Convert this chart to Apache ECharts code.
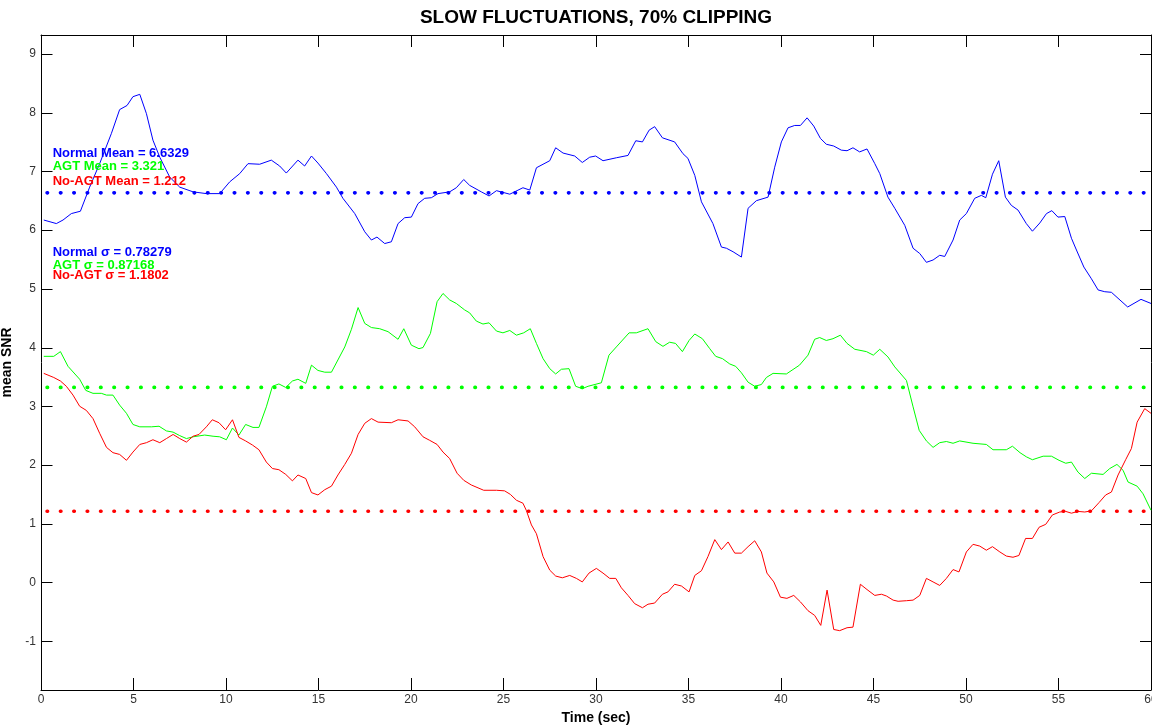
<!DOCTYPE html>
<html>
<head>
<meta charset="utf-8">
<script src="https://cdn.jsdelivr.net/npm/echarts@6/dist/echarts.min.js"></script>
<style>
  html, body { margin: 0; padding: 0; background: #fff; }
  #chart { width: 1152px; height: 725px; }
</style>
</head>
<body>
<div id="chart"></div>
<script>
// Mean SNR over time for three receiver configurations
const normalT = [0.15,0.83,1.19,1.64,2.13,2.63,3.17,3.80,4.25,4.65,4.97,5.34,5.70,6.05,6.42,6.96,7.50,8.22,8.94,9.66,10.20,10.74,11.19,11.82,12.45,12.90,13.26,13.89,14.25,14.62,14.97,15.43,15.97,16.32,16.96,17.50,17.86,18.16,18.58,18.94,19.30,19.66,20.02,20.38,20.74,21.10,21.46,22.09,22.45,22.85,23.17,23.80,24.22,24.62,25.34,26.05,26.42,26.78,27.50,27.82,28.22,28.85,29.26,29.66,29.98,30.38,31.10,31.73,32.15,32.51,32.87,33.17,33.59,34.25,34.70,34.97,35.34,35.70,36.32,36.78,37.05,37.41,37.86,38.22,38.67,39.30,39.66,40.02,40.38,40.74,41.05,41.41,41.77,42.13,42.45,42.85,43.26,43.57,43.89,44.25,44.65,45.07,45.34,45.78,46.15,46.69,47.14,47.50,47.86,48.22,48.58,48.85,49.30,49.66,50.02,50.47,50.83,51.07,51.43,51.77,52.13,52.45,52.81,53.26,53.59,53.99,54.35,54.64,54.97,55.34,55.70,55.97,56.37,56.78,57.14,57.50,57.86,58.74,59.46,60.00];
const normalV = [6.17,6.11,6.17,6.28,6.32,6.73,7.13,7.64,8.05,8.12,8.27,8.31,7.98,7.53,7.24,6.90,6.73,6.65,6.62,6.62,6.82,6.96,7.13,7.12,7.19,7.09,6.97,7.19,7.09,7.26,7.14,6.96,6.73,6.54,6.28,5.97,5.83,5.88,5.77,5.80,6.11,6.21,6.22,6.45,6.54,6.55,6.62,6.65,6.72,6.86,6.76,6.65,6.58,6.67,6.61,6.72,6.68,7.06,7.18,7.40,7.31,7.26,7.15,7.24,7.26,7.18,7.23,7.27,7.52,7.50,7.70,7.76,7.57,7.50,7.30,7.22,6.93,6.48,6.11,5.71,5.69,5.63,5.54,6.37,6.50,6.56,7.07,7.50,7.74,7.78,7.78,7.91,7.77,7.56,7.46,7.43,7.36,7.35,7.40,7.33,7.38,7.13,6.96,6.56,6.37,6.08,5.69,5.60,5.45,5.49,5.57,5.55,5.83,6.17,6.28,6.54,6.59,6.55,6.95,7.18,6.56,6.42,6.34,6.11,5.98,6.12,6.28,6.33,6.22,6.23,5.86,5.66,5.37,5.17,4.98,4.95,4.94,4.69,4.82,4.75];

const agtT = [0.15,0.69,1.05,1.46,2.09,2.42,2.81,3.26,3.54,3.89,4.25,4.62,4.97,5.34,5.97,6.38,6.78,7.14,7.50,7.86,8.22,8.85,9.30,9.66,10.02,10.35,10.70,11.06,11.46,11.78,12.18,12.51,12.86,13.23,13.59,13.89,14.31,14.62,14.97,15.34,15.70,16.42,16.78,17.14,17.50,17.86,18.31,18.76,19.30,19.61,20.02,20.43,20.65,21.05,21.41,21.73,22.09,22.45,22.90,23.17,23.53,23.89,24.22,24.62,24.97,25.34,25.70,26.09,26.45,26.78,27.14,27.50,27.82,28.13,28.54,28.90,29.26,29.57,30.29,30.70,31.10,31.79,32.18,32.81,33.23,33.62,33.98,34.30,34.67,35.03,35.34,35.75,36.15,36.47,36.84,37.23,37.55,37.86,38.22,38.58,38.94,39.21,39.57,40.29,41.00,41.46,41.82,42.09,42.45,42.81,43.21,43.57,43.99,44.62,44.99,45.34,45.78,46.15,46.78,47.14,47.47,47.86,48.22,48.58,48.94,49.30,49.66,50.38,51.10,51.46,52.18,52.51,52.92,53.26,53.59,54.17,54.62,55.03,55.39,55.70,56.05,56.42,56.78,57.41,57.77,58.16,58.49,58.76,59.25,59.57,60.00];
const agtV = [3.85,3.85,3.93,3.68,3.46,3.27,3.22,3.22,3.19,3.19,3.02,2.88,2.69,2.65,2.65,2.66,2.58,2.56,2.50,2.45,2.48,2.51,2.49,2.48,2.43,2.63,2.51,2.69,2.64,2.64,2.99,3.34,3.38,3.32,3.43,3.46,3.39,3.70,3.61,3.58,3.58,4.01,4.31,4.68,4.41,4.34,4.32,4.27,4.14,4.32,4.04,3.98,4.00,4.24,4.78,4.92,4.81,4.75,4.64,4.59,4.45,4.40,4.42,4.28,4.25,4.29,4.21,4.25,4.32,4.07,3.81,3.64,3.55,3.63,3.64,3.34,3.30,3.34,3.40,3.87,4.01,4.25,4.25,4.32,4.10,4.02,4.09,4.07,3.93,4.12,4.23,4.15,3.98,3.85,3.81,3.72,3.68,3.57,3.41,3.34,3.37,3.49,3.56,3.55,3.70,3.87,4.14,4.17,4.12,4.15,4.21,4.07,3.97,3.93,3.87,3.97,3.84,3.67,3.44,2.99,2.59,2.41,2.30,2.38,2.40,2.37,2.41,2.37,2.35,2.26,2.26,2.32,2.21,2.14,2.09,2.15,2.15,2.08,2.03,2.05,1.88,1.77,1.86,1.84,1.94,2.01,1.91,1.71,1.64,1.51,1.23];

const noAgtT = [0.15,0.69,1.05,1.37,1.73,2.09,2.45,2.81,3.17,3.54,3.89,4.25,4.62,4.97,5.34,5.70,6.05,6.42,6.78,7.14,7.50,7.86,8.22,8.54,8.94,9.26,9.62,9.98,10.35,10.70,11.06,11.43,11.78,12.18,12.51,12.86,13.23,13.59,13.89,14.31,14.62,14.97,15.34,15.70,16.05,16.42,16.78,17.14,17.50,17.86,18.22,18.94,19.30,19.84,20.20,20.65,21.01,21.41,21.73,22.09,22.49,22.85,23.26,23.93,24.62,25.06,25.37,25.70,26.05,26.23,26.51,26.78,27.14,27.50,27.82,28.18,28.58,28.94,29.26,29.62,30.02,30.38,30.74,31.07,31.37,31.73,32.09,32.51,32.81,33.17,33.59,33.89,34.25,34.62,35.03,35.34,35.70,36.05,36.42,36.78,37.14,37.50,37.86,38.22,38.58,38.94,39.24,39.61,39.97,40.32,40.69,41.05,41.46,41.82,42.15,42.49,42.85,43.17,43.57,43.89,44.29,44.65,45.07,45.43,45.70,46.06,46.33,46.78,47.14,47.50,47.86,48.22,48.58,48.94,49.30,49.62,50.02,50.38,50.74,51.10,51.43,51.83,52.18,52.54,52.86,53.22,53.59,53.95,54.31,54.67,55.07,55.39,55.70,56.05,56.42,56.78,57.19,57.55,57.86,58.22,58.63,58.94,59.25,59.66,60.00];
const noAgtV = [3.56,3.49,3.43,3.34,3.19,3.00,2.93,2.79,2.54,2.30,2.21,2.18,2.08,2.22,2.35,2.38,2.43,2.38,2.45,2.52,2.45,2.39,2.49,2.52,2.65,2.77,2.72,2.60,2.77,2.47,2.41,2.34,2.26,2.05,1.94,1.92,1.84,1.73,1.83,1.77,1.53,1.49,1.58,1.64,1.83,2.01,2.20,2.52,2.71,2.79,2.73,2.72,2.77,2.75,2.65,2.48,2.42,2.35,2.22,2.11,1.86,1.74,1.66,1.57,1.57,1.56,1.50,1.40,1.35,1.23,0.98,0.83,0.44,0.21,0.11,0.08,0.12,0.07,0.01,0.16,0.24,0.16,0.07,0.07,-0.09,-0.22,-0.36,-0.43,-0.37,-0.35,-0.20,-0.16,-0.03,-0.06,-0.16,0.12,0.20,0.44,0.73,0.56,0.69,0.50,0.50,0.61,0.71,0.52,0.16,0.01,-0.25,-0.27,-0.22,-0.33,-0.48,-0.56,-0.73,-0.13,-0.80,-0.82,-0.77,-0.76,-0.03,-0.12,-0.22,-0.20,-0.23,-0.30,-0.32,-0.31,-0.30,-0.22,0.07,0.01,-0.05,0.07,0.22,0.18,0.52,0.65,0.62,0.55,0.61,0.52,0.45,0.43,0.46,0.75,0.75,0.94,0.99,1.15,1.20,1.21,1.18,1.21,1.20,1.22,1.36,1.49,1.54,1.83,2.09,2.28,2.73,2.96,2.88];

// Summary statistics
const normalMean = 6.6329, agtMean = 3.321, noAgtMean = 1.212;
const normalSigma = 0.78279, agtSigma = 0.87168, noAgtSigma = 1.1802;

const xTicks = [0, 5, 10, 15, 20, 25, 30, 35, 40, 45, 50, 55, 60];
const yTicks = [-1, 0, 1, 2, 3, 4, 5, 6, 7, 8, 9];
const X_MIN = 0, X_MAX = 60, Y_MIN = -1.83, Y_MAX = 9.32;

const BLUE = '#0000ff', GREEN = '#00ff00', RED = '#ff0000';

// Annotation blocks: [x, y, text, colour] in data units
const annotations = [
  [0.63, 7.31, 'Normal Mean = ' + normalMean, BLUE],
  [0.63, 7.08, 'AGT Mean = ' + agtMean, GREEN],
  [0.63, 6.83, 'No-AGT Mean = ' + noAgtMean, RED],
  [0.63, 5.62, 'Normal \u03c3 = ' + normalSigma, BLUE],
  [0.63, 5.40, 'AGT \u03c3 = ' + agtSigma, GREEN],
  [0.63, 5.23, 'No-AGT \u03c3 = ' + noAgtSigma, RED]
];

const zip = (t, v) => t.map((x, i) => [x, v[i]]);

const chart = echarts.init(document.getElementById('chart'), null, { renderer: 'canvas' });

const axisLine = { show: true, onZero: false, lineStyle: { color: '#000', width: 1 } };
const FONT = '"Liberation Sans", Arial, sans-serif';

function meanSeries(value, color) {
  return {
    type: 'line',
    data: [[X_MIN, value], [X_MAX, value]],
    showSymbol: false,
    silent: true,
    lineStyle: { color: color, width: 3.6, type: [0.5, 12.87], cap: 'round', dashOffset: 7.3 },
    z: 3
  };
}

function curve(t, v, color) {
  return {
    type: 'line',
    data: zip(t, v),
    showSymbol: false,
    silent: true,
    lineStyle: { color: color, width: 1 },
    z: 2
  };
}

chart.setOption({
  animation: false,
  backgroundColor: '#fff',
  textStyle: { fontFamily: FONT },
  grid: { left: 41, right: 1, top: 35, bottom: 35, containLabel: false, outerBoundsMode: 'none' },
  xAxis: [
    {
      type: 'value', position: 'bottom', min: X_MIN, max: X_MAX, interval: 5,
      axisLine: axisLine, splitLine: { show: false },
      axisTick: { show: true, inside: true, length: 12, lineStyle: { color: '#000' } },
      axisLabel: { show: true, margin: 4, fontSize: 12, color: '#333', customValues: xTicks },
      name: 'Time (sec)', nameLocation: 'middle', nameGap: 16,
      nameTextStyle: { fontSize: 14, fontWeight: 'bold', color: '#000' }
    },
    {
      type: 'value', position: 'top', min: X_MIN, max: X_MAX, interval: 5,
      axisLine: axisLine, splitLine: { show: false },
      axisTick: { show: true, inside: true, length: 12, lineStyle: { color: '#000' } },
      axisLabel: { show: false }
    }
  ],
  yAxis: [
    {
      type: 'value', position: 'left', min: Y_MIN, max: Y_MAX,
      axisLine: axisLine, splitLine: { show: false },
      axisTick: { show: false },
      axisLabel: { show: true, margin: 5, fontSize: 12, color: '#333', customValues: yTicks },
      name: 'mean SNR', nameLocation: 'middle', nameGap: 13,
      nameTextStyle: { fontSize: 14, fontWeight: 'bold', color: '#000' }
    },
    {
      type: 'value', position: 'right', min: Y_MIN, max: Y_MAX,
      axisLine: axisLine, splitLine: { show: false },
      axisTick: { show: false },
      axisLabel: { show: false }
    }
  ],
  series: [
    curve(normalT, normalV, BLUE),
    curve(agtT, agtV, GREEN),
    curve(noAgtT, noAgtV, RED),
    meanSeries(normalMean, BLUE),
    meanSeries(agtMean, GREEN),
    meanSeries(noAgtMean, RED)
  ]
});

// Title centred over the plot, statistics text and inward y ticks placed through the axes
const leftEdge = chart.convertToPixel({ gridIndex: 0 }, [X_MIN, 0])[0];
const rightEdge = chart.convertToPixel({ gridIndex: 0 }, [X_MAX, 0])[0];
const TICK = 11;

const graphics = [];
graphics.push({
  type: 'text', x: (leftEdge + rightEdge) / 2, y: 18, silent: true,
  style: {
    text: 'SLOW FLUCTUATIONS, 70% CLIPPING', fill: '#000',
    font: 'bold 19px ' + FONT, textAlign: 'center', textVerticalAlign: 'middle'
  }
});
yTicks.forEach(v => {
  const py = Math.round(chart.convertToPixel({ gridIndex: 0 }, [X_MIN, v])[1]) + 0.5;
  graphics.push({
    type: 'line', silent: true, z: 50,
    shape: { x1: leftEdge + 0.5, y1: py, x2: leftEdge + 0.5 + TICK, y2: py },
    style: { stroke: '#000', lineWidth: 1 }
  });
  graphics.push({
    type: 'line', silent: true, z: 50,
    shape: { x1: rightEdge - TICK, y1: py, x2: rightEdge, y2: py },
    style: { stroke: '#000', lineWidth: 1 }
  });
});
annotations.forEach(([x, y, text, color]) => {
  const p = chart.convertToPixel({ gridIndex: 0 }, [x, y]);
  graphics.push({
    type: 'text', x: p[0], y: p[1], z: 60, silent: true,
    style: {
      text: text, fill: color, font: 'bold 13px ' + FONT,
      textAlign: 'left', textVerticalAlign: 'middle'
    }
  });
});

chart.setOption({ graphic: graphics });
</script>
</body>
</html>
